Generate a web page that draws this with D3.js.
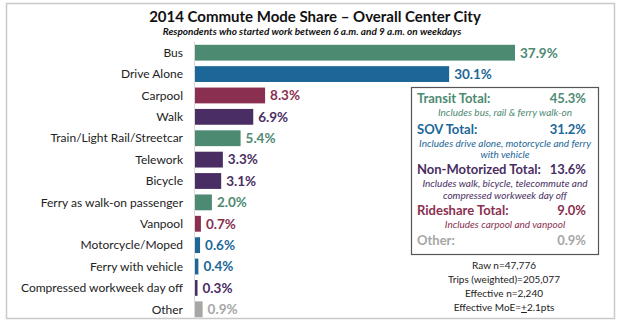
<!DOCTYPE html>
<html>
<head>
<meta charset="utf-8">
<script src="https://cdn.jsdelivr.net/npm/d3@7"></script>
<style>
  body { margin: 0; background: #fff; }
  svg { font-family: Lato, "Open Sans", sans-serif; }
</style>
</head>
<body>
<svg id="canvas" width="620" height="323"></svg>
<script>
// Commute modes, top to bottom, with their share of trips (%)
let modes = ["Bus", "Drive Alone", "Carpool", "Walk", "Train/Light Rail/Streetcar", "Telework",
    "Bicycle", "Ferry as walk-on passenger", "Vanpool", "Motorcycle/Moped", "Ferry with vehicle",
    "Compressed workweek day off", "Other"];
let shares = [37.9, 30.1, 8.3, 6.9, 5.4, 3.3, 3.1, 2.0, 0.7, 0.6, 0.4, 0.3, 0.9];
// Which family each mode belongs to (drives the colour)
let groups = ["transit", "sov", "rideshare", "nonmotor", "transit", "nonmotor", "nonmotor",
    "transit", "rideshare", "sov", "sov", "nonmotor", "other"];

// Summary box
let totalNames = ["Transit Total:", "SOV Total:", "Non-Motorized Total:", "Rideshare Total:", "Other:"];
let totalValues = [45.3, 31.2, 13.6, 9.0, 0.9];
let totalGroups = ["transit", "sov", "nonmotor", "rideshare", "other"];
let totalNotes = [
    ["Includes bus, rail & ferry walk-on"],
    ["Includes drive alone, motorcycle and ferry", "with vehicle"],
    ["Includes walk, bicycle, telecommute and", "compressed workweek day off"],
    ["Includes carpool and vanpool"],
    []
];

let statLines = ["Raw n=47,776", "Trips (weighted)=205,077", "Effective n=2,240"];

let colors = {
    transit: "#4d8a72",
    sov: "#1c6797",
    rideshare: "#8a2f4f",
    nonmotor: "#4a2e63",
    other: "#a6a6a6"
};

let canvas = d3.select("#canvas");

// outer frame
canvas.append("rect")
    .attr("x", 6.5).attr("y", 3.5)
    .attr("width", 608).attr("height", 315)
    .attr("fill", "none")
    .attr("stroke", "#c9c9c9")
    .attr("stroke-width", 1.5);

canvas.append("text")
    .attr("x", 315).attr("y", 22)
    .attr("text-anchor", "middle")
    .attr("font-size", 15).attr("font-weight", "bold")
    .attr("fill", "#111")
    .text("2014 Commute Mode Share \u2013 Overall Center City");

canvas.append("text")
    .attr("x", 312).attr("y", 35)
    .attr("text-anchor", "middle")
    .attr("font-size", 10).attr("font-weight", "bold").attr("font-style", "italic")
    .attr("fill", "#111")
    .text("Respondents who started work between 6 a.m. and 9 a.m. on weekdays");

let x = d3.scaleLinear().domain([0, 37.9]).range([195, 515]);
let y = d3.scaleBand().domain(modes).range([42, 320]).paddingInner(0.26).paddingOuter(0.13);

// baseline
canvas.append("line")
    .attr("x1", 194.5).attr("x2", 194.5)
    .attr("y1", 42).attr("y2", 318)
    .attr("stroke", "#d9d9d9");

let rows = canvas.selectAll("g.row")
    .data(modes)
    .enter()
    .append("g")
    .attr("class", "row");

rows.append("rect")
    .attr("x", x(0))
    .attr("y", d => y(d))
    .attr("width", (d, i) => x(shares[i]) - x(0))
    .attr("height", y.bandwidth())
    .attr("fill", (d, i) => colors[groups[i]]);

rows.append("text")
    .attr("x", 183)
    .attr("y", d => y(d) + y.bandwidth() / 2)
    .attr("dy", "0.35em")
    .attr("text-anchor", "end")
    .attr("font-size", 12)
    .attr("fill", "#222")
    .text(d => d);

rows.append("text")
    .attr("x", (d, i) => x(shares[i]) + 5)
    .attr("y", d => y(d) + y.bandwidth() / 2)
    .attr("dy", "0.36em")
    .attr("font-size", 13.5).attr("font-weight", "bold")
    .attr("fill", (d, i) => colors[groups[i]])
    .text((d, i) => shares[i].toFixed(1) + "%");

// summary box
canvas.append("rect")
    .attr("x", 411.5).attr("y", 87.5)
    .attr("width", 187).attr("height", 167)
    .attr("fill", "#fff")
    .attr("stroke", "#555")
    .attr("stroke-width", 1.2);

let headY = [103, 134, 174, 215, 245];
let noteY = [[116], [147, 158], [187, 199], [228], []];

totalNames.forEach((name, i) => {
    let c = colors[totalGroups[i]];
    canvas.append("text")
        .attr("x", 417).attr("y", headY[i])
        .attr("font-size", 13).attr("font-weight", "bold")
        .attr("fill", c)
        .text(name);
    canvas.append("text")
        .attr("x", 586).attr("y", headY[i])
        .attr("text-anchor", "end")
        .attr("font-size", 13).attr("font-weight", "bold")
        .attr("fill", c)
        .text(totalValues[i].toFixed(1) + "%");
    totalNotes[i].forEach((line, j) => {
        canvas.append("text")
            .attr("x", 505).attr("y", noteY[i][j])
            .attr("text-anchor", "middle")
            .attr("font-size", 10).attr("font-style", "italic")
            .attr("fill", c)
            .text(line);
    });
});

// sample size notes under the box
statLines.forEach((line, i) => {
    canvas.append("text")
        .attr("x", 504).attr("y", 269 + i * 14)
        .attr("text-anchor", "middle")
        .attr("font-size", 10)
        .attr("fill", "#222")
        .text(line);
});

let moe = canvas.append("text")
    .attr("x", 504).attr("y", 311)
    .attr("text-anchor", "middle")
    .attr("font-size", 10)
    .attr("fill", "#222");
moe.append("tspan").text("Effective MoE=");
moe.append("tspan").attr("text-decoration", "underline").text("+");
moe.append("tspan").text("2.1pts");
</script>
</body>
</html>
